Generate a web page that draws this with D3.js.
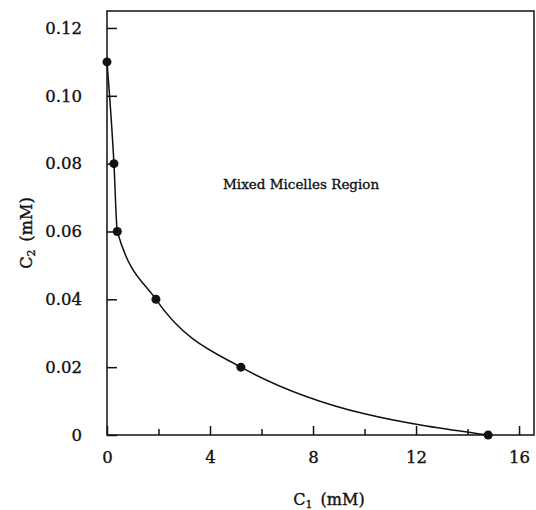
<!DOCTYPE html>
<html>
<head>
<meta charset="utf-8">
<script src="https://cdn.jsdelivr.net/npm/d3@7"></script>
<style>
  body { margin: 0; background: #fff; }
  text { font-family: "DejaVu Serif", serif; fill: #111; stroke: #111; stroke-width: 0.35px; }
</style>
</head>
<body>
<div id="canvas"></div>
<script>
// Datos
const c1Values = [0, 0.27, 0.4, 1.9, 5.2, 14.8];
const c2Values = [0.11, 0.08, 0.06, 0.04, 0.02, 0];
const xTickValues = [0, 4, 8, 12, 16];
const xMinorTicks = [2, 6, 10, 14];
const yTickValues = [0, 0.02, 0.04, 0.06, 0.08, 0.10, 0.12];
const yTickLabels = ["0", "0.02", "0.04", "0.06", "0.08", "0.10", "0.12"];

const data = c1Values.map((c, i) => ({c1: c, c2: c2Values[i]}));

const width = 536;
const height = 510;
const margin = {top: 11, left: 107, bottom: 75, right: 2};

const svg = d3.select("#canvas").append("svg")
    .attr("width", width)
    .attr("height", height);

// Escalas
const x = d3.scaleLinear()
    .domain([0, 16.58])
    .range([margin.left, width - margin.right]);

const y = d3.scaleLinear()
    .domain([0, 0.125])
    .range([height - margin.bottom, margin.top]);

// Marco de la grafica
svg.append("rect")
    .attr("x", x(0))
    .attr("y", y(0.125))
    .attr("width", x(16.58) - x(0))
    .attr("height", y(0) - y(0.125))
    .attr("fill", "none")
    .attr("stroke", "#111")
    .attr("stroke-width", 1.5);

// Eje x con marcas hacia adentro
svg.append("g")
    .attr("transform", `translate(0, ${y(0)})`)
    .call(d3.axisBottom(x).tickValues(xTickValues).tickSize(-9).tickPadding(16).tickFormat(d3.format("d")));

svg.append("g")
    .attr("transform", `translate(0, ${y(0)})`)
    .call(d3.axisBottom(x).tickValues(xMinorTicks).tickSize(-6).tickFormat(""));

// Eje y con marcas hacia adentro
svg.append("g")
    .attr("transform", `translate(${x(0)}, 0)`)
    .call(d3.axisLeft(y).tickValues(yTickValues).tickSize(-10).tickPadding(25)
        .tickFormat((d, i) => yTickLabels[i]));

svg.selectAll(".domain").remove();
svg.selectAll(".tick line").attr("stroke", "#111").attr("stroke-width", 1.5);
svg.selectAll(".tick text")
    .style("font-family", "'DejaVu Serif', serif")
    .style("font-size", "16.5px")
    .attr("fill", "#111");

// Curva
const line = d3.line()
    .x(d => x(d.c1))
    .y(d => y(d.c2))
    .curve(d3.curveMonotoneX);

svg.append("path")
    .datum(data)
    .attr("d", line)
    .attr("fill", "none")
    .attr("stroke", "#111")
    .attr("stroke-width", 1.5);

// Puntos
svg.selectAll("circle.point")
    .data(data)
    .enter().append("circle")
    .attr("class", "point")
    .attr("cx", d => x(d.c1))
    .attr("cy", d => y(d.c2))
    .attr("r", 4.5)
    .attr("fill", "#111");

// Texto de la region
svg.append("text")
    .attr("x", 223)
    .attr("y", 189)
    .style("font-size", "13.5px")
    .text("Mixed Micelles Region");

// Titulo eje x
const xl = svg.append("text")
    .attr("text-anchor", "middle")
    .attr("x", 329)
    .attr("y", 505)
    .style("font-size", "16px");
xl.append("tspan").text("C");
xl.append("tspan").attr("font-size", "11px").attr("dy", 3).text("1");
xl.append("tspan").attr("dy", -3).text("\u2002(mM)");

// Titulo eje y
const yl = svg.append("text")
    .attr("text-anchor", "middle")
    .attr("transform", "translate(32, 233) rotate(-90)")
    .style("font-size", "16px");
yl.append("tspan").text("C");
yl.append("tspan").attr("font-size", "11px").attr("dy", 3).text("2");
yl.append("tspan").attr("dy", -3).text("\u2002(mM)");
</script>
</body>
</html>
